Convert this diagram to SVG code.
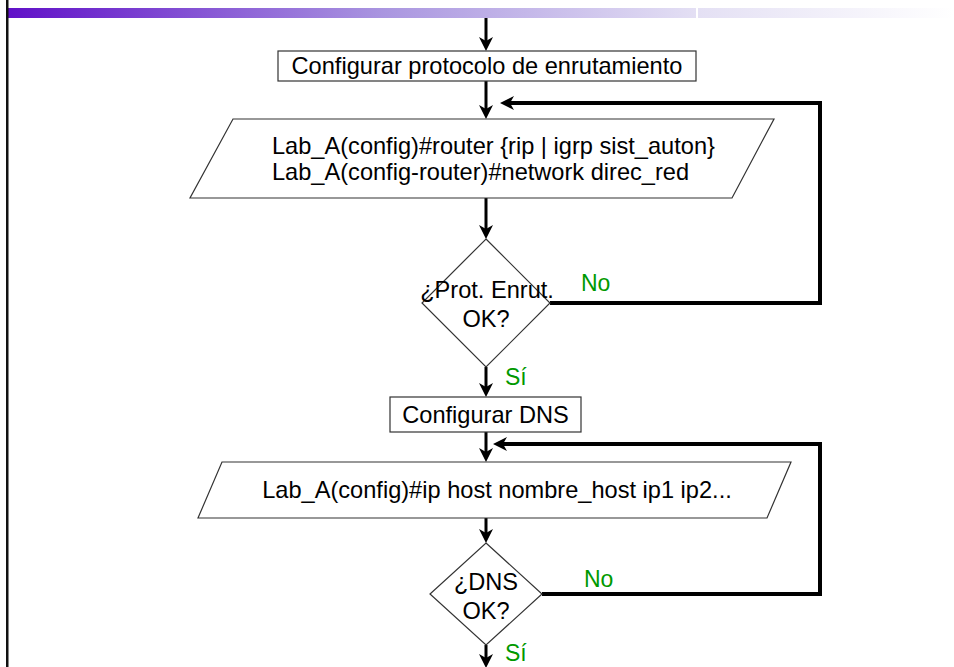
<svg xmlns="http://www.w3.org/2000/svg" width="954" height="667" viewBox="0 0 954 667">
  <defs>
    <linearGradient id="band" x1="0" y1="0" x2="1" y2="0">
      <stop offset="0" stop-color="#6010c8"/>
      <stop offset="0.4" stop-color="#aa96e0"/>
      <stop offset="0.73" stop-color="#e4e0f4"/>
      <stop offset="1" stop-color="#ffffff"/>
    </linearGradient>
    <!-- stealth arrowhead; lines stop 8px short of the tip -->
    <marker id="head" markerUnits="userSpaceOnUse" markerWidth="16" markerHeight="16" refX="6" refY="7" orient="auto" viewBox="0 0 16 14">
      <path d="M0,0 L14,7 L0,14 L4,7 Z" fill="#000"/>
    </marker>
  </defs>
  <style>
    .shape { fill: #ffffff; stroke: #333333; stroke-width: 1.2; }
    .txt { font-family: "Liberation Sans", Arial, sans-serif; font-size: 23.6px; fill: #000000; }
    .mid { text-anchor: middle; }
    .lbl { font-family: "Liberation Sans", Arial, sans-serif; font-size: 23px; fill: #009900; }
    .flow { fill: none; stroke: #000000; stroke-width: 3; marker-end: url(#head); }
    .loop { fill: none; stroke: #000000; stroke-width: 4; stroke-linejoin: miter; marker-end: url(#head); }
  </style>

  <rect width="954" height="667" fill="#ffffff"/>

  <!-- title band and left rule -->
  <g id="frame">
    <rect x="6" y="8" width="948" height="10" fill="url(#band)"/>
    <rect x="696" y="8" width="2" height="10" fill="#ffffff"/>
    <rect x="6" y="0" width="2.5" height="667" fill="#111111"/>
  </g>

  <g id="connectors">
    <line class="flow" x1="486" y1="18" x2="486" y2="43"/>
    <line class="flow" x1="486" y1="81" x2="486" y2="111"/>
    <polyline class="loop" points="550,303 820,303 820,103 508,103"/>
    <line class="flow" x1="486" y1="198" x2="486" y2="231"/>
    <line class="flow" x1="486" y1="367" x2="486" y2="389"/>
    <line class="flow" x1="486" y1="432" x2="486" y2="454"/>
    <polyline class="loop" points="542,594 820,594 820,444 501,444"/>
    <line class="flow" x1="486" y1="518" x2="486" y2="535"/>
    <line class="flow" x1="486" y1="645" x2="486" y2="660"/>
  </g>

  <g id="box-protocolo">
    <rect class="shape" x="278" y="51" width="418" height="30"/>
    <text class="txt mid" x="487" y="74">Configurar protocolo de enrutamiento</text>
  </g>

  <g id="in-router">
    <polygon class="shape" points="233,119 774,119 732,198 190,198"/>
    <text class="txt" x="272" y="154">Lab_A(config)#router {rip | igrp sist_auton}</text>
    <text class="txt" x="272" y="180">Lab_A(config-router)#network direc_red</text>
  </g>

  <g id="dec-protocolo">
    <polygon class="shape" points="486,239 550,303 486,367 422,303"/>
    <text class="txt mid" x="487" y="298">¿Prot. Enrut.</text>
    <text class="txt mid" x="486" y="327">OK?</text>
    <text class="lbl" x="581" y="291">No</text>
    <text class="lbl" x="505" y="385">Sí</text>
  </g>

  <g id="box-dns">
    <rect class="shape" x="390" y="397" width="191" height="35"/>
    <text class="txt mid" x="485.5" y="423">Configurar DNS</text>
  </g>

  <g id="in-host">
    <polygon class="shape" points="222,462 791,462 767,518 198,518"/>
    <text class="txt mid" x="497" y="498">Lab_A(config)#ip host nombre_host ip1 ip2...</text>
  </g>

  <g id="dec-dns">
    <polygon class="shape" points="486,543 542,594 486,645 430,594"/>
    <text class="txt mid" x="486" y="590">¿DNS</text>
    <text class="txt mid" x="486" y="619">OK?</text>
    <text class="lbl" x="584" y="587">No</text>
    <text class="lbl" x="505" y="661">Sí</text>
  </g>
</svg>
